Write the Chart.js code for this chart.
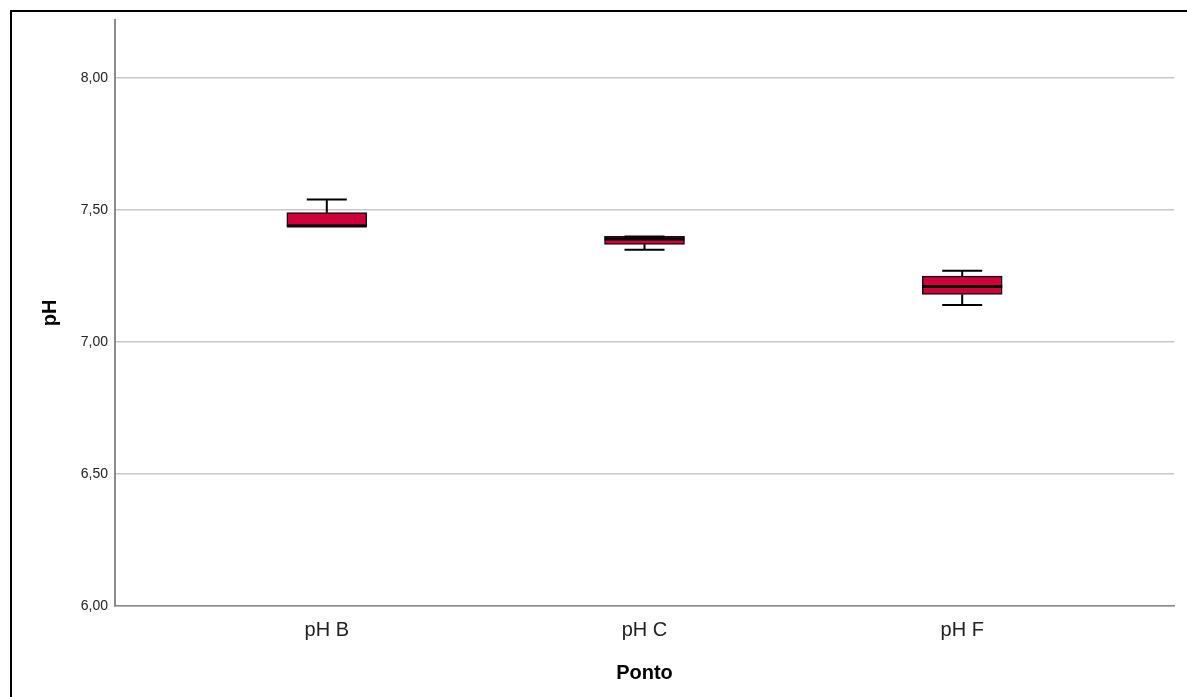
<!DOCTYPE html>
<html>
<head>
<meta charset="utf-8">
<script src="https://cdn.jsdelivr.net/npm/chart.js@4/dist/chart.umd.min.js"></script>
<style>
  html, body { margin: 0; padding: 0; background: #fff; overflow: hidden; }
  #wrap { position: absolute; left: 0; top: 0; width: 1187px; height: 697px; }
  #frame { position: absolute; left: 10px; top: 10px; width: 1300px; height: 800px;
           border-left: 2px solid #000; border-top: 2px solid #000; pointer-events: none; }
</style>
</head>
<body>
<div id="wrap"><canvas id="c" width="1187" height="697"></canvas></div>
<div id="frame"></div>
<script>
// Sampling points and pH summary statistics per point
const categories = ['pH B', 'pH C', 'pH F'];
const mins    = [7.44, 7.35, 7.14];
const q1s     = [7.44, 7.37, 7.18];
const medians = [7.44, 7.39, 7.21];
const q3s     = [7.49, 7.40, 7.25];
const maxs    = [7.54, 7.40, 7.27];
const yTicks  = [6.0, 6.5, 7.0, 7.5, 8.0];

const boxColor = '#d2003a';

// Whiskers, caps and median lines drawn on top of the floating bars
const boxWhiskers = {
  id: 'boxWhiskers',
  afterDatasetsDraw(chart) {
    const { ctx, scales: { x, y } } = chart;
    const meta = chart.getDatasetMeta(0);
    ctx.save();
    ctx.strokeStyle = '#000';
    ctx.lineCap = 'butt';
    categories.forEach((_, i) => {
      const bar = meta.data[i];
      const half = bar.width / 2;
      const cx = x.getPixelForValue(i);
      const capHalf = half / 2;
      const yMin = y.getPixelForValue(mins[i]);
      const yMax = y.getPixelForValue(maxs[i]);
      const yQ1 = y.getPixelForValue(q1s[i]);
      const yQ3 = y.getPixelForValue(q3s[i]);
      const yMed = y.getPixelForValue(medians[i]);
      ctx.lineWidth = 2;
      ctx.beginPath();
      ctx.moveTo(cx, yQ3); ctx.lineTo(cx, yMax);
      ctx.moveTo(cx - capHalf, yMax); ctx.lineTo(cx + capHalf, yMax);
      ctx.moveTo(cx, yQ1); ctx.lineTo(cx, yMin);
      ctx.moveTo(cx - capHalf, yMin); ctx.lineTo(cx + capHalf, yMin);
      ctx.stroke();
      ctx.lineWidth = 3;
      ctx.beginPath();
      ctx.moveTo(cx - half, yMed); ctx.lineTo(cx + half, yMed);
      ctx.stroke();
    });
    ctx.restore();
  }
};

const fmt = v => v.toFixed(2).replace('.', ',');

new Chart(document.getElementById('c'), {
  type: 'bar',
  data: {
    datasets: [{
      data: categories.map((_, i) => ({ x: i, y: [q1s[i], q3s[i]] })),
      backgroundColor: boxColor,
      borderColor: '#111',
      borderWidth: 1.5,
      borderSkipped: false,
      barThickness: 80
    }]
  },
  options: {
    responsive: false,
    animation: false,
    devicePixelRatio: 1,
    layout: { padding: { left: 0, top: 20, right: 13, bottom: 0 } },
    plugins: { legend: { display: false }, tooltip: { enabled: false } },
    scales: {
      x: {
        type: 'linear',
        offset: false,
        min: -2 / 3,
        max: categories.length - 1 + 2 / 3,
        afterBuildTicks: s => { s.ticks = categories.map((_, i) => ({ value: i })); },
        afterFit: s => { s.height = 91; },
        grid: { display: false, offset: false, drawTicks: false },
        border: { display: true, color: '#8a8a8a', width: 1.5 },
        ticks: {
          padding: 12,
          color: '#222',
          font: { family: 'Liberation Sans, Arial, sans-serif', size: 20 },
          callback: v => categories[v]
        },
        title: {
          display: true,
          text: 'Ponto',
          color: '#000',
          font: { family: 'Liberation Sans, Arial, sans-serif', size: 20, weight: 'bold' },
          padding: { top: 0, bottom: 12 }
        }
      },
      y: {
        type: 'linear',
        min: 6,
        max: 8.22,
        afterBuildTicks: s => { s.ticks = yTicks.map(v => ({ value: v })); },
        afterFit: s => { s.width = 115; },
        grid: { color: '#c8c8c8', lineWidth: 1.5, drawTicks: false },
        border: { display: true, color: '#8a8a8a', width: 2 },
        ticks: {
          padding: 7,
          color: '#222',
          font: { family: 'Liberation Sans, Arial, sans-serif', size: 14 },
          callback: v => fmt(v)
        },
        title: {
          display: true,
          text: 'pH',
          color: '#000',
          font: { family: 'Liberation Sans, Arial, sans-serif', size: 20, weight: 'bold' },
          padding: { top: 38, bottom: 0 }
        }
      }
    }
  },
  plugins: [boxWhiskers]
});
</script>
</body>
</html>
